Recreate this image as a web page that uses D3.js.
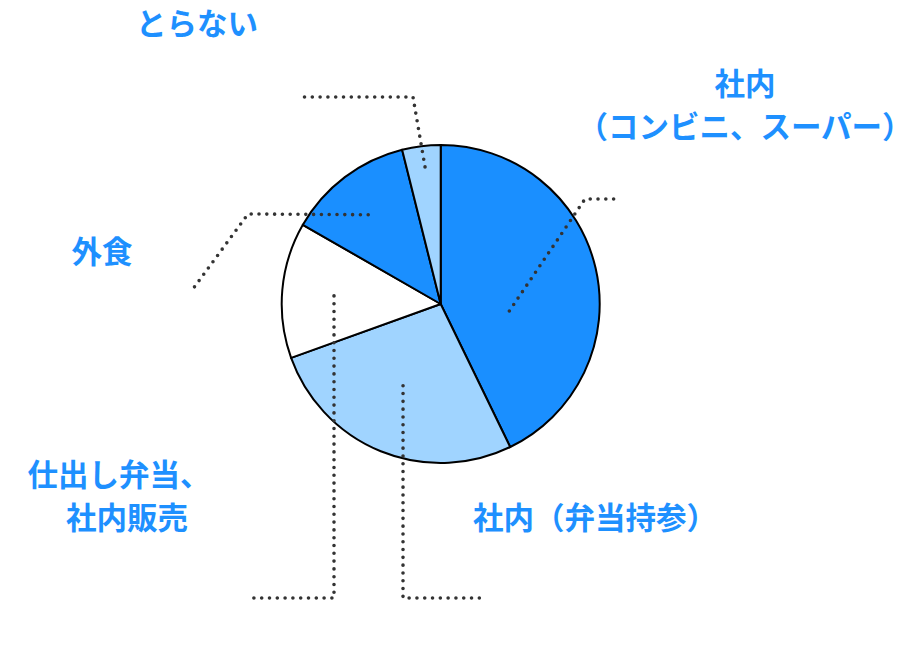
<!DOCTYPE html>
<html>
<head>
<meta charset="utf-8">
<script src="https://cdn.jsdelivr.net/npm/d3@7"></script>
<style>
  body { margin: 0; background: #fff; }
  text { font-family: "Noto Sans CJK JP", sans-serif; font-weight: 700; }
</style>
</head>
<body>
<div id="chart"></div>
<script>
// categories and shares (%), clockwise from 12 o'clock
const categories = ["社内（コンビニ、スーパー）", "社内（弁当持参）", "仕出し弁当、社内販売", "外食", "とらない"]
const shares = [42.8, 26.7, 13.8, 12.8, 3.9]
// label text as it is broken in the picture
const labelLines = [
    ["社内", "（コンビニ、スーパー）"],
    ["社内（弁当持参）"],
    ["仕出し弁当、", "社内販売"],
    ["外食"],
    ["とらない"]
]

const width = 920,
    height = 646,
    cx = 440.7,
    cy = 304,
    radius = 159

const svg = d3.select("#chart")
    .append("svg")
    .attr("width", width)
    .attr("height", height)

const g = svg.append("g")
    .attr("transform", `translate(${cx},${cy})`)

const color = d3.scaleOrdinal()
    .domain(categories)
    .range(["#1a8fff", "#a0d4ff", "#ffffff", "#1a8fff", "#a0d4ff"])

const pie = d3.pie()
    .value(d => d[1])
    .sort(null)

const arc = d3.arc()
    .innerRadius(0)
    .outerRadius(radius)

const data_ready = pie(categories.map((c, i) => [c, shares[i]]))

g.selectAll("path.slice")
    .data(data_ready)
    .join("path")
    .attr("class", "slice")
    .attr("d", arc)
    .attr("fill", d => color(d.data[0]))
    .attr("stroke", "#000")
    .attr("stroke-width", 2)
    .attr("stroke-linejoin", "round")

// leader lines: start sits inside the slice (radius + angle shift from the middle),
// then an elbow and an end point in page coordinates
const leaders = [
    { r: 69, da: 18.8, elbow: [585, 199], end: [620, 199] },
    { r: 90, da: 2.6, elbow: [403, 598], end: [480, 598] },
    { r: 107, da: -0.7, elbow: [334, 598], end: [250, 598] },
    { r: 115, da: -2, elbow: [248, 214], end: [190, 293] },
    { r: 138, da: 0.5, elbow: [413, 97], end: [300, 97] }
]

const line = d3.line()

svg.selectAll("path.leader")
    .data(data_ready)
    .join("path")
    .attr("class", "leader")
    .attr("d", (d, i) => {
        const L = leaders[i]
        const a = (d.startAngle + d.endAngle) / 2 + L.da * Math.PI / 180
        const start = [cx + L.r * Math.sin(a), cy - L.r * Math.cos(a)]
        return line([start, L.elbow, L.end])
    })
    .attr("fill", "none")
    .attr("stroke", "#333")
    .attr("stroke-width", 3.6)
    .attr("stroke-linecap", "round")
    .attr("stroke-dasharray", "0 7.8")

// label anchors (centre of the text block) and per-line x nudges
const labelPos = [[745, 84], [595, 518], [119, 475], [102, 252], [197, 24]]
const lineShift = [[0, 0], [0], [0, 8], [0], [0]]
const lineGap = 43

const labels = svg.selectAll("text.label")
    .data(labelLines)
    .join("text")
    .attr("class", "label")
    .attr("x", (d, i) => labelPos[i][0])
    .attr("y", (d, i) => labelPos[i][1])
    .attr("text-anchor", "middle")
    .attr("fill", "#1e90ff")
    .attr("font-size", 30.5)

labels.selectAll("tspan")
    .data((d, i) => d.map((t, j) => ({ t, i, j })))
    .join("tspan")
    .attr("x", d => labelPos[d.i][0] + lineShift[d.i][d.j])
    .attr("dy", d => d.j === 0 ? "0.35em" : lineGap)
    .text(d => d.t)
</script>
</body>
</html>
